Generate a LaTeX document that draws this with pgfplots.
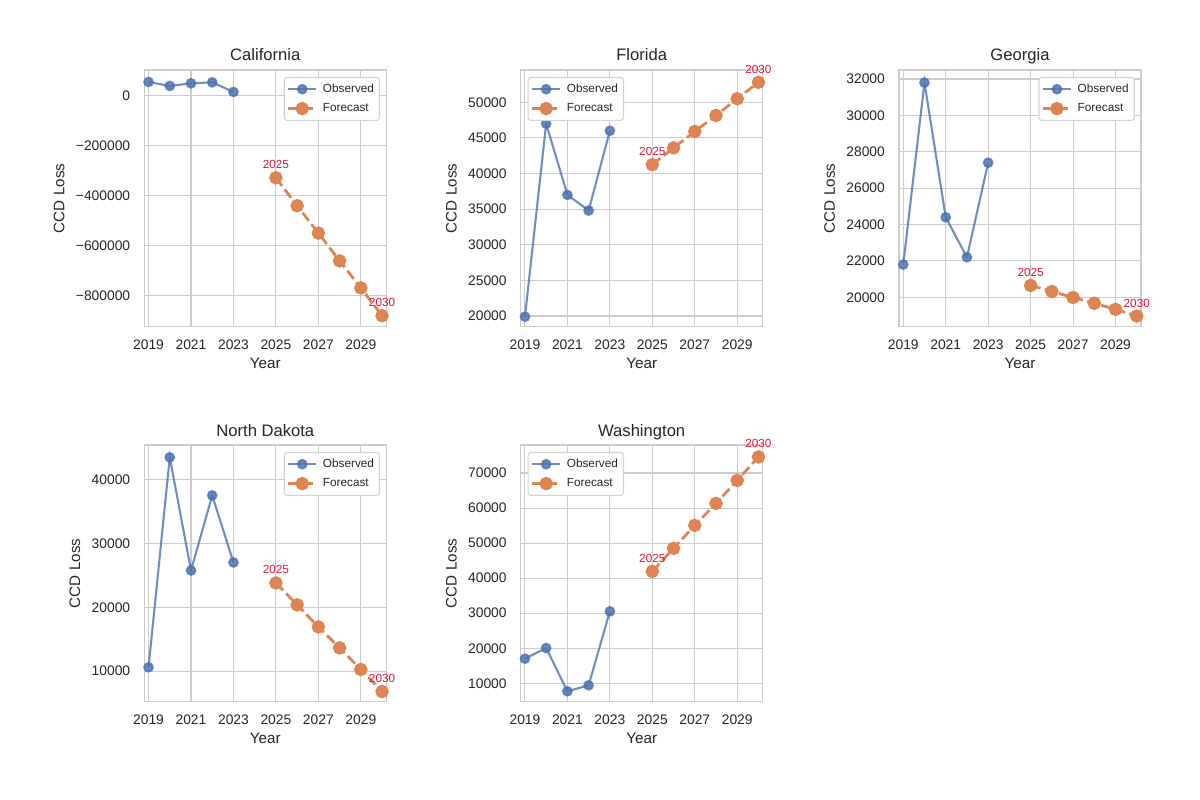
\documentclass[border=0pt]{standalone}
\usepackage{fontspec}
\setmainfont{Liberation Sans}
\usepackage{pgfplots}
\pgfplotsset{compat=1.18}

\definecolor{obsblue}{HTML}{4C72B0}
\definecolor{fcorange}{HTML}{DD8452}
\definecolor{gridgray}{HTML}{CCCCCC}
\definecolor{legedge}{HTML}{D4D4D4}
\definecolor{txt}{HTML}{262626}
\definecolor{annored}{HTML}{E0143C}

\tikzset{
  anno/.style={font=\fontsize{8.5}{10}\selectfont, text=annored, anchor=base,
               inner sep=0pt, yshift=6.5pt},
}

\pgfplotsset{
  every axis title shift=0pt,
  panel/.style={
    scale only axis, width=2.42in, height=2.567in,
    xmin=2018.8, xmax=2030.2,
    xtick={2019,2021,2023,2025,2027,2029},
    xticklabels={2019,2021,2023,2025,2027,2029},
    scaled ticks=false,
    grid=major,
    major grid style={line width=0.75pt, color=gridgray},
    axis line style={line width=1.1pt, color=gridgray},
    major tick length=0pt,
    /pgf/number format/assume math mode=true,
    tick label style={font=\fontsize{10}{12}\selectfont, color=txt},
    xticklabel style={inner sep=0pt, anchor=north, yshift=-9pt},
    yticklabel style={inner sep=0pt, anchor=east, xshift=-10pt},
    xlabel={Year}, ylabel={CCD Loss},
    label style={font=\fontsize{11}{13}\selectfont, color=txt},
    xlabel style={inner sep=0pt, yshift=-6.5pt},
    ylabel style={inner sep=0pt, yshift=8pt},
    title style={font=\fontsize{12}{14}\selectfont, color=txt, inner sep=0pt,
                 anchor=base, at={(0.5,1)}, yshift=6.5pt},
    clip mode=individual,
    legend cell align=left,
    legend style={font=\fontsize{8.5}{10}\selectfont, draw=legedge, line width=0.8pt,
                  rounded corners=2pt, fill=white, text=txt,
                  inner xsep=2pt, inner ysep=1.5pt, column sep=2pt,
                  nodes={inner sep=2pt, text height=0.72em, text depth=0.28em}},
    legend image code/.code={%
      \draw[mark repeat=2, mark phase=2, #1]
        plot coordinates {(0pt,0pt) (10pt,0pt) (20pt,0pt)};},
  },
  legright/.style={legend style={at={(1,1)}, anchor=north east, xshift=-4.5pt, yshift=-5pt}},
  legleft/.style={legend style={at={(0,1)}, anchor=north west, xshift=5pt, yshift=-5pt}},
  obs/.style={color=obsblue, opacity=0.8, line width=1.5pt, mark=*, mark size=3.1pt,
              mark options={solid, draw=none, fill=obsblue}},
  fc/.style={color=fcorange, line width=2pt, dash pattern=on 7.4pt off 3.2pt,
             mark=*, mark size=3.85pt, mark options={solid, draw=none, fill=fcorange}},
}

\begin{document}
\begin{tikzpicture}
\fill[white] (0,0) rectangle (12in,8in);

% California
\begin{axis}[panel, legright, at={(1.443in,4.733in)}, anchor=south west,
  title={California}, ymin=-923000, ymax=102500,
  ytick={-800000,-600000,-400000,-200000,0},
  yticklabels={−800000,−600000,−400000,−200000,0}]
\addplot[obs] coordinates {(2019,54700) (2020,38700) (2021,49100) (2022,53100) (2023,14800)};
\addlegendentry{Observed}
\addplot[fc] coordinates {(2025,-328000) (2026,-440000) (2027,-549000) (2028,-660000) (2029,-768000) (2030,-879000)};
\addlegendentry{Forecast}
\node[anno] at (axis cs:2025,-328000) {2025};
\node[anno] at (axis cs:2030,-879000) {2030};
\end{axis}

% Florida
\begin{axis}[panel, legleft, at={(5.207in,4.733in)}, anchor=south west,
  title={Florida}, ymin=18500, ymax=54530,
  ytick={20000,25000,30000,35000,40000,45000,50000},
  yticklabels={20000,25000,30000,35000,40000,45000,50000}]
\addplot[obs] coordinates {(2019,19900) (2020,47000) (2021,37000) (2022,34800) (2023,46000)};
\addlegendentry{Observed}
\addplot[fc] coordinates {(2025,41250) (2026,43600) (2027,45900) (2028,48150) (2029,50500) (2030,52800)};
\addlegendentry{Forecast}
\node[anno] at (axis cs:2025,41250) {2025};
\node[anno] at (axis cs:2030,52800) {2030};
\end{axis}

% Georgia
\begin{axis}[panel, legright, at={(8.99in,4.733in)}, anchor=south west,
  title={Georgia}, ymin=18384, ymax=32495,
  ytick={20000,22000,24000,26000,28000,30000,32000},
  yticklabels={20000,22000,24000,26000,28000,30000,32000}]
\addplot[obs] coordinates {(2019,21800) (2020,31800) (2021,24400) (2022,22200) (2023,27400)};
\addlegendentry{Observed}
\addplot[fc] coordinates {(2025,20650) (2026,20320) (2027,19990) (2028,19670) (2029,19340) (2030,18970)};
\addlegendentry{Forecast}
\node[anno] at (axis cs:2025,20650) {2025};
\node[anno] at (axis cs:2030,18970) {2030};
\end{axis}

% North Dakota
\begin{axis}[panel, legright, at={(1.443in,0.983in)}, anchor=south west,
  title={North Dakota}, ymin=5190, ymax=45440,
  ytick={10000,20000,30000,40000},
  yticklabels={10000,20000,30000,40000}]
\addplot[obs] coordinates {(2019,10580) (2020,43500) (2021,25770) (2022,37530) (2023,27020)};
\addlegendentry{Observed}
\addplot[fc] coordinates {(2025,23820) (2026,20370) (2027,16920) (2028,13630) (2029,10240) (2030,6790)};
\addlegendentry{Forecast}
\node[anno] at (axis cs:2025,23820) {2025};
\node[anno] at (axis cs:2030,6790) {2030};
\end{axis}

% Washington
\begin{axis}[panel, legleft, at={(5.207in,0.983in)}, anchor=south west,
  title={Washington}, ymin=4750, ymax=77990,
  ytick={10000,20000,30000,40000,50000,60000,70000},
  yticklabels={10000,20000,30000,40000,50000,60000,70000}]
\addplot[obs] coordinates {(2019,17020) (2020,20070) (2021,7720) (2022,9430) (2023,30530)};
\addlegendentry{Observed}
\addplot[fc] coordinates {(2025,41940) (2026,48500) (2027,55060) (2028,61330) (2029,67900) (2030,74580)};
\addlegendentry{Forecast}
\node[anno] at (axis cs:2025,41940) {2025};
\node[anno] at (axis cs:2030,74580) {2030};
\end{axis}

\pgfresetboundingbox
\path[use as bounding box] (0,0) rectangle (12in,8in);
\end{tikzpicture}
\end{document}
